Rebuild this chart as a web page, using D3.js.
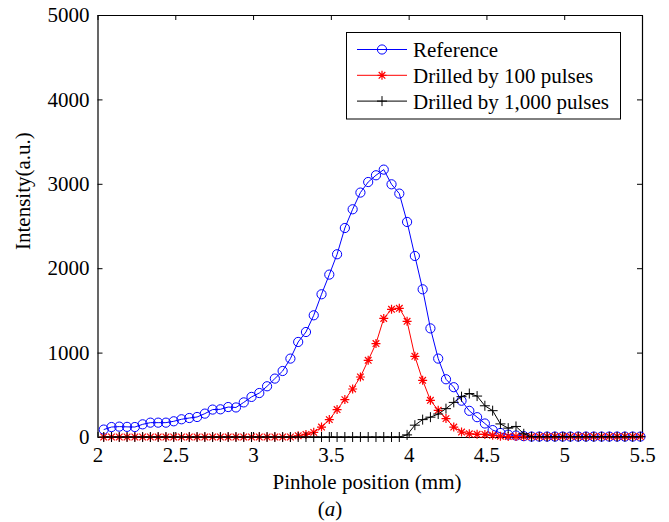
<!DOCTYPE html>
<html>
<head>
<meta charset="utf-8">
<script src="https://cdn.jsdelivr.net/npm/d3@7"></script>
<style>
  body { margin: 0; background: #fff; }
  text { font-family: "Liberation Serif", "Times New Roman", serif; fill: #000; }
</style>
</head>
<body>
<div id="chart"></div>
<script>
      // pinhole positions: 2.04 .. 5.49 step 0.05
      var positions = d3.range(70).map(function(i){ return +(2.04 + i * 0.05).toFixed(2); });
      var reference = [88, 118, 123, 120, 118, 150, 170, 170, 170, 186, 210, 225, 237, 277, 325, 328, 355, 350,
                       410, 475, 521, 601, 692, 782, 929, 1126, 1244, 1442, 1691, 1924, 2165, 2476, 2698, 2896, 3021, 3101, 3168,
                       2994, 2884, 2548, 2145, 1750, 1287, 929, 684, 590, 430, 310, 235, 160, 82, 48, 28, 17, 10,
                       5, 5, 5, 5, 5, 5, 5, 5, 5, 5, 5, 5, 5, 5, 5];
      var pulses100 = [0, 0, 0, 0, 0, 0, 0, 0, 0, 0, 0, 0, 0, 0, 0, 0, 0, 0, 0, 0, 0, 0, 0, 0, 0,
                       15, 30, 55, 118, 206, 325, 443, 569, 711, 909, 1107, 1405, 1513, 1525, 1371, 956, 672, 435, 316, 218, 118, 59, 38, 32, 30, 20, 10,
                       5, 5, 5, 5, 5, 5, 5, 5, 5, 5, 5, 5, 5, 5, 5, 5, 5, 5];
      var pulses1000 = [0, 0, 0, 0, 0, 0, 0, 0, 0, 0, 0, 0, 0, 0, 0, 0, 0, 0, 0, 0, 0, 0, 0, 0, 0, 0, 0, 0, 0, 0, 0, 0, 0, 0, 0, 0, 0, 0, 0,
                        25, 140, 206, 235, 272, 336, 410, 478, 515, 485, 370, 312, 155, 105, 125, 38,
                        3, 3, 3, 3, 3, 3, 3, 3, 3, 3, 3, 3, 3, 3, 3];
      var xTicks = [2, 2.5, 3, 3.5, 4, 4.5, 5, 5.5];
      var yTicks = [0, 1000, 2000, 3000, 4000, 5000];
      var seriesNames = ["Reference", "Drilled by 100 pulses", "Drilled by 1,000 pulses"];

      var width = 669, height = 522;
      var margin = { top: 15, right: 27, bottom: 85, left: 97.5 };
      var fs = 21;
      var svg = d3.select('#chart').append('svg')
                  .attr('width', width)
                  .attr('height', height);
      var x = d3.scaleLinear().domain([2, 5.5]).range([margin.left, width - margin.right]);
      var y = d3.scaleLinear().domain([0, 5000]).range([height - margin.bottom, margin.top]);

      var series = [
        { name: seriesNames[0], values: reference, color: '#0000ff', marker: 'circle' },
        { name: seriesNames[1], values: pulses100, color: '#ff0000', marker: 'star' },
        { name: seriesNames[2], values: pulses1000, color: '#000000', marker: 'plus' }
      ];

      // axes box with inward ticks on all sides
      var tl = 5;
      svg.append('g').attr('transform', 'translate(0,' + y(0) + ')')
         .call(d3.axisBottom(x).tickValues(xTicks).tickSizeInner(-tl).tickSizeOuter(0).tickPadding(10).tickFormat(d3.format('')));
      svg.append('g').attr('transform', 'translate(0,' + y(5000) + ')')
         .call(d3.axisTop(x).tickValues(xTicks).tickSizeInner(-tl).tickSizeOuter(0).tickFormat(''));
      svg.append('g').attr('transform', 'translate(' + x(2) + ',0)')
         .call(d3.axisLeft(y).tickValues(yTicks).tickSizeInner(-tl).tickSizeOuter(0).tickPadding(8).tickFormat(d3.format('d')));
      svg.append('g').attr('transform', 'translate(' + x(5.5) + ',0)')
         .call(d3.axisRight(y).tickValues(yTicks).tickSizeInner(-tl).tickSizeOuter(0).tickFormat(''));
      svg.selectAll('.domain').attr('stroke', '#000').attr('stroke-width', 1.2);
      svg.selectAll('.tick line').attr('stroke', '#000');
      svg.selectAll('.tick text').attr('font-size', fs);

      function drawMarker(g, type, color) {
        if (type === 'circle') {
          g.append('circle').attr('r', 4.6).attr('fill', 'none').attr('stroke', color).attr('stroke-width', 1);
        } else if (type === 'star') {
          var s = 4.5, d = 3.3;
          g.append('path').attr('d', 'M' + (-s) + ',0H' + s + 'M0,' + (-s) + 'V' + s +
                'M' + (-d) + ',' + (-d) + 'L' + d + ',' + d + 'M' + (-d) + ',' + d + 'L' + d + ',' + (-d))
           .attr('stroke', color).attr('stroke-width', 1.2).attr('fill', 'none');
        } else {
          var p = 5;
          g.append('path').attr('d', 'M' + (-p) + ',0H' + p + 'M0,' + (-p) + 'V' + p)
           .attr('stroke', color).attr('stroke-width', 1).attr('fill', 'none');
        }
      }

      var line = d3.line()
                   .x(function(d){ return x(d[0]); })
                   .y(function(d){ return y(d[1]); });

      series.forEach(function(s) {
        var pts = positions.map(function(p, i){ return [p, s.values[i]]; });
        svg.append('path').datum(pts)
           .attr('fill', 'none').attr('stroke', s.color).attr('stroke-width', 1)
           .attr('d', line);
        pts.forEach(function(d) {
          var g = svg.append('g').attr('transform', 'translate(' + x(d[0]) + ',' + y(d[1]) + ')');
          drawMarker(g, s.marker, s.color);
        });
      });

      // legend
      var legend = svg.append('g');
      legend.append('rect').attr('x', 346.5).attr('y', 32.5).attr('width', 274).attr('height', 86.5)
            .attr('fill', '#fff').attr('stroke', '#000').attr('stroke-width', 1);
      series.forEach(function(s, i) {
        var ly = 49.5 + i * 25.8;
        legend.append('line').attr('x1', 357).attr('x2', 407).attr('y1', ly).attr('y2', ly)
              .attr('stroke', s.color).attr('stroke-width', 1);
        var g = legend.append('g').attr('transform', 'translate(382,' + ly + ')');
        drawMarker(g, s.marker, s.color);
        legend.append('text').attr('x', 413).attr('y', ly + 7.5).attr('font-size', fs).text(s.name);
      });

      // axis labels
      svg.append('text').attr('x', 367).attr('y', 489).attr('text-anchor', 'middle')
         .attr('font-size', fs).text('Pinhole position (mm)');
      svg.append('text').attr('transform', 'translate(30,250) rotate(-90)').attr('text-anchor', 'start')
         .attr('font-size', fs).text('Intensity(a.u.)');
      var cap = svg.append('text').attr('x', 330).attr('y', 516).attr('text-anchor', 'middle').attr('font-size', fs);
      cap.append('tspan').text('(');
      cap.append('tspan').attr('font-style', 'italic').text('a');
      cap.append('tspan').text(')');
</script>
</body>
</html>
